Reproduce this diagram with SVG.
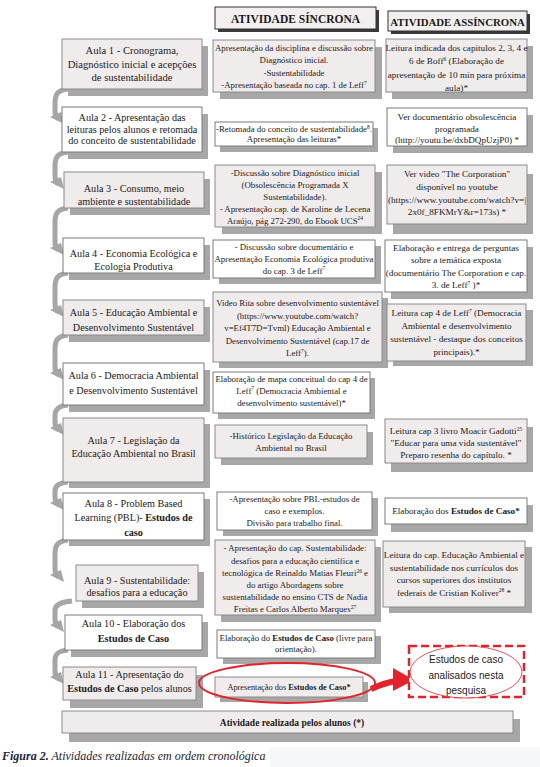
<svg xmlns="http://www.w3.org/2000/svg" width="540" height="767" viewBox="0 0 540 767">
<style>
.sh{fill:#a7a7a7}
.g{fill:#f1ecec;stroke:#8a8a8a;stroke-width:1}
.w{fill:#ffffff;stroke:#7a7a7a;stroke-width:1}
.hd{fill:#f3efef;stroke:#333;stroke-width:1}
.hs{fill:#3a3a3a}
text{font-family:"Liberation Serif","Times New Roman",serif;fill:#1a1a1a;text-anchor:middle}
.l{font-size:10.2px}
.m{font-size:8.8px}
.r{font-size:9.2px}
.h{font-size:11.5px;font-weight:bold}
.b{font-weight:bold}
.sup{font-size:5.5px}
.con{fill:none;stroke:#a6a6a6;stroke-width:5}
.ah{fill:#a6a6a6}
.red{stroke:#e3222b;fill:none}
.sans{font-family:"Liberation Sans",Arial,sans-serif;font-size:10px;fill:#222}
</style>
<rect x="0" y="0" width="540" height="767" fill="#ffffff"/>
<rect x="270" y="747" width="270" height="20" fill="#f4f8f9"/>

<!-- headers -->
<g id="header-sincrona">
<rect class="hs" x="218" y="10" width="161" height="22"/>
<rect class="hd" x="215" y="7" width="161" height="22"/>
<text class="h" x="295.5" y="23">ATIVIDADE SÍNCRONA</text>
</g>
<g id="header-assincrona">
<rect class="hs" x="391" y="14" width="139" height="20"/>
<rect class="hd" x="388" y="11" width="139" height="20"/>
<text class="h" x="457.5" y="25.5" style="font-size:10.8px">ATIVIDADE ASSÍNCRONA</text>
</g>

<!-- connectors -->
<g id="connectors">
<path class="con" d="M68 89 C57 90 55 95 55 103 L55 111 Q55 116 58 119"/>
<polygon class="ah" points="50,117 61,112 64,124"/>
<path class="con" d="M68 152 C57 153 55 158 55 166 L55 176 Q55 181 58 184"/>
<polygon class="ah" points="50,182 61,177 64,189"/>
<path class="con" d="M68 208 C57 209 55 214 55 222 L55 242 Q55 247 58 250"/>
<polygon class="ah" points="50,248 61,243 64,255"/>
<path class="con" d="M68 273 C57 274 55 279 55 287 L55 304 Q55 309 58 312"/>
<polygon class="ah" points="50,310 61,305 64,317"/>
<path class="con" d="M68 335 C57 336 55 341 55 349 L55 367 Q55 372 58 375"/>
<polygon class="ah" points="50,373 61,368 64,380"/>
<path class="con" d="M68 405 C57 406 55 411 55 416 L55 422 Q55 427 58 430"/>
<polygon class="ah" points="50,428 61,423 64,435"/>
<path class="con" d="M68 482 C57 483 55 487 55 491 L55 497 Q55 502 58 505"/>
<polygon class="ah" points="50,503 61,498 64,510"/>
<path class="con" d="M68 540 C57 541 55 546 55 554 L55 569 Q55 574 58 577"/>
<polygon class="ah" points="50,575 61,570 64,582"/>
<path class="con" d="M72 601 C60 602 55 606 55 610 L55 619 Q55 624 58 627"/>
<polygon class="ah" points="50,625 61,620 64,632"/>
<path class="con" d="M68 650 C57 651 55 655 55 660 L55 671 Q55 676 58 679"/>
<polygon class="ah" points="50,677 61,672 64,684"/>
</g>

<!-- left column -->
<g id="aula1">
<rect class="sh" x="68" y="46" width="140" height="50"/>
<rect class="g" x="62" y="39" width="140" height="50"/>
<text class="l" x="132" y="54" style="font-size:10.6px">Aula 1 - Cronograma,</text>
<text class="l" x="132" y="67.5" style="font-size:10.6px">Diagnóstico inicial e acepções</text>
<text class="l" x="132" y="81" style="font-size:10.6px">de sustentabilidade</text>
</g>
<g id="aula2">
<rect class="sh" x="68" y="114" width="140" height="45"/>
<rect class="w" x="62" y="107" width="140" height="45"/>
<text class="l" x="132" y="121">Aula 2 -  Apresentação das</text>
<text class="l" x="132" y="132.5">leituras pelos alunos e retomada</text>
<text class="l" x="132" y="144">do conceito de sustentabilidade</text>
</g>
<g id="aula3">
<rect class="sh" x="70" y="179" width="140" height="36"/>
<rect class="g" x="64" y="172" width="140" height="36"/>
<text class="l" x="134" y="191.5">Aula 3 - Consumo, meio</text>
<text class="l" x="134" y="204.5">ambiente e sustentabilidade</text>
</g>
<g id="aula4">
<rect class="sh" x="69" y="245" width="141" height="35"/>
<rect class="w" x="63" y="238" width="141" height="35"/>
<text class="l" x="133.5" y="256.5">Aula 4 - Economia Ecológica e</text>
<text class="l" x="133.5" y="269.5">Ecologia Produtiva</text>
</g>
<g id="aula5">
<rect class="sh" x="69" y="307" width="141" height="35"/>
<rect class="g" x="63" y="300" width="141" height="35"/>
<text class="l" x="133.5" y="315.5">Aula 5 - Educação Ambiental e</text>
<text class="l" x="133.5" y="330.5">Desenvolvimento Sustentável</text>
</g>
<g id="aula6">
<rect class="sh" x="69" y="370" width="141" height="42"/>
<rect class="w" x="63" y="363" width="141" height="42"/>
<text class="l" x="133.5" y="378.5">Aula 6 - Democracia Ambiental</text>
<text class="l" x="133.5" y="393.5">e Desenvolvimento Sustentável</text>
</g>
<g id="aula7">
<rect class="sh" x="69" y="424" width="141" height="64"/>
<rect class="g" x="63" y="418" width="141" height="64"/>
<text class="l" x="133.5" y="443.5">Aula 7 - Legislação da</text>
<text class="l" x="133.5" y="456.5">Educação Ambiental no Brasil</text>
</g>
<g id="aula8">
<rect class="sh" x="69" y="499" width="141" height="47"/>
<rect class="w" x="63" y="493" width="141" height="47"/>
<text class="l" x="133.5" y="506.5">Aula 8 - Problem Based</text>
<text class="l" x="133.5" y="521">Learning (PBL)- <tspan class="b">Estudos de</tspan></text>
<text class="l b" x="133.5" y="535.5">caso</text>
</g>
<g id="aula9">
<rect class="sh" x="82" y="572" width="122" height="36"/>
<rect class="g" x="76" y="565" width="122" height="36"/>
<text class="l" x="137" y="583.5">Aula 9 - Sustentabilidade:</text>
<text class="l" x="137" y="595.5">desafios para a educação</text>
</g>
<g id="aula10">
<rect class="sh" x="71" y="622" width="137" height="35"/>
<rect class="w" x="65" y="615" width="137" height="35"/>
<text class="l" x="133.5" y="627">Aula 10 -  Elaboração dos</text>
<text class="l b" x="133.5" y="642">Estudos de Caso</text>
</g>
<g id="aula11">
<rect class="sh" x="70" y="675" width="133" height="33"/>
<rect class="g" x="63" y="667" width="133" height="33"/>
<text class="l" x="129.5" y="677.5">Aula 11 - Apresentação do</text>
<text class="l" x="129.5" y="691.5"><tspan class="b">Estudos de Caso</tspan> pelos alunos</text>
</g>

<!-- middle column -->
<g id="sinc1">
<rect class="sh" x="220" y="47" width="162" height="52"/>
<rect class="g" x="213" y="40" width="162" height="52"/>
<text class="m" x="294" y="50.5">Apresentação da disciplina e discussão sobre</text>
<text class="m" x="294" y="63">Diagnóstico inicial.</text>
<text class="m" x="294" y="75.5">-Sustentabilidade</text>
<text class="m" x="294" y="88">-Apresentação baseada no cap. 1 de Leff<tspan class="sup" dy="-3.5">7</tspan></text>
</g>
<g id="sinc2">
<rect class="sh" x="220" y="128" width="158" height="24"/>
<rect class="w" x="215" y="122" width="158" height="24"/>
<text class="m" x="294" y="132">-Retomada do conceito de sustentabilidade<tspan class="sup" dy="-3.5">8</tspan><tspan dy="3.5">.</tspan></text>
<text class="m" x="294" y="142">Apresentação das leituras*</text>
</g>
<g id="sinc3">
<rect class="sh" x="222" y="172" width="160" height="62"/>
<rect class="g" x="215" y="165" width="160" height="62"/>
<text class="m" x="295" y="175.5">-Discussão sobre Diagnóstico inicial</text>
<text class="m" x="295" y="187.5">(Obsolescência Programada X</text>
<text class="m" x="295" y="199.5">Sustentabilidade).</text>
<text class="m" x="295" y="211.5">- Apresentação cap. de Karoline de Lecena</text>
<text class="m" x="295" y="223.5">Araújo, pág 272-290, do Ebook UCS<tspan class="sup" dy="-3.5">24</tspan></text>
</g>
<g id="sinc4">
<rect class="sh" x="219" y="246" width="162" height="38"/>
<rect class="w" x="213" y="240" width="162" height="38"/>
<text class="m" x="294" y="249.5">- Discussão sobre documentário e</text>
<text class="m" x="294" y="261.5">Apresentação Economia Ecológica produtiva</text>
<text class="m" x="294" y="273.5">do cap. 3 de Leff<tspan class="sup" dy="-3.5">7</tspan></text>
</g>
<g id="sinc5">
<rect class="sh" x="219" y="298" width="169" height="70"/>
<rect class="g" x="213" y="292" width="169" height="70"/>
<text class="m" x="297.5" y="306">Video Rita sobre desenvolvimento sustentável</text>
<text class="m" x="297.5" y="318.5">(https://www.youtube.com/watch?</text>
<text class="m" x="297.5" y="331">v=Ef4T7D=Tvml) Educação Ambiental e</text>
<text class="m" x="297.5" y="343.5">Desenvolvimento Sustentável (cap.17 de</text>
<text class="m" x="297.5" y="356">Leff<tspan class="sup" dy="-3.5">7</tspan><tspan dy="3.5">).</tspan></text>
</g>
<g id="sinc6">
<rect class="sh" x="218" y="378" width="157" height="41"/>
<rect class="w" x="213" y="372" width="157" height="41"/>
<text class="m" x="291.5" y="381.5">Elaboração de mapa conceitual do cap 4 de</text>
<text class="m" x="291.5" y="393.5">Leff<tspan class="sup" dy="-3.5">7</tspan><tspan dy="3.5"> (Democracia Ambiental e</tspan></text>
<text class="m" x="291.5" y="405.5">desenvolvimento sustentável)*</text>
</g>
<g id="sinc7">
<rect class="sh" x="221" y="432" width="152" height="33"/>
<rect class="g" x="215" y="425" width="152" height="33"/>
<text class="m" x="291" y="438.5">-Histórico Legislação da Educação</text>
<text class="m" x="291" y="450.5">Ambiental no Brasil</text>
</g>
<g id="sinc8">
<rect class="sh" x="223" y="498" width="155" height="38"/>
<rect class="w" x="217" y="492" width="155" height="38"/>
<text class="m" x="294.5" y="502">-Apresentação sobre PBL-estudos de</text>
<text class="m" x="294.5" y="514">caso e exemplos.</text>
<text class="m" x="294.5" y="526">Divisão para trabalho final.</text>
</g>
<g id="sinc9">
<rect class="sh" x="221" y="547" width="160" height="75"/>
<rect class="g" x="215" y="540" width="160" height="75"/>
<text class="m" x="295" y="551">- Apresentação do cap. Sustentabilidade:</text>
<text class="m" x="295" y="563.5">desafios para a educação científica e</text>
<text class="m" x="295" y="576">tecnológica de Reinaldo Matias Fleuri<tspan class="sup" dy="-3.5">26</tspan><tspan dy="3.5"> e</tspan></text>
<text class="m" x="295" y="588">do artigo Abordagens sobre</text>
<text class="m" x="295" y="600">sustentabilidade no ensino CTS de Nadia</text>
<text class="m" x="295" y="612">Freitas e Carlos Alberto Marques<tspan class="sup" dy="-3.5">27</tspan></text>
</g>
<g id="sinc10">
<rect class="sh" x="223" y="636" width="158" height="28"/>
<rect class="w" x="217" y="630" width="158" height="28"/>
<text class="m" x="296" y="640.5">Elaboração do <tspan class="b">Estudos de Caso</tspan> (livre para</text>
<text class="m" x="296" y="652">orientação).</text>
</g>
<g id="sinc11">
<rect class="sh" x="220" y="682" width="148" height="20"/>
<rect class="g" x="215" y="677" width="148" height="20"/>
<text class="m" x="289" y="690" style="font-size:8.3px">Apresentação dos <tspan class="b">Estudos de Caso*</tspan></text>
</g>

<!-- right column -->
<g id="assinc1">
<rect class="sh" x="392" y="46" width="141" height="53"/>
<rect class="g" x="386" y="39" width="141" height="53"/>
<text class="r" x="456.5" y="50.5">Leitura indicada dos capitulos 2, 3, 4 e</text>
<text class="r" x="456.5" y="64">6  de Boff<tspan class="sup" dy="-3.5">6</tspan><tspan dy="3.5"> (Elaboração de</tspan></text>
<text class="r" x="456.5" y="77.5">apresentação de 10 min para próxima</text>
<text class="r" x="456.5" y="90.5">aula)*</text>
</g>
<g id="assinc2">
<rect class="sh" x="393" y="115" width="140" height="38"/>
<rect class="w" x="387" y="108" width="140" height="38"/>
<text class="r" x="457" y="119.5">Ver documentário obsolescência</text>
<text class="r" x="457" y="131.5">programada</text>
<text class="r" x="457" y="143">(http://youtu.be/dxbDQpUzjP0) *</text>
</g>
<g id="assinc3">
<rect class="sh" x="393" y="174" width="140" height="60"/>
<rect class="g" x="387" y="165" width="140" height="59"/>
<text class="r" x="457" y="176.5">Ver video "The Corporation"</text>
<text class="r" x="457" y="190">disponível no youtube</text>
<text class="r" x="457" y="202.5">(https://www.youtube.com/watch?v=|</text>
<text class="r" x="457" y="215">2x0f_8FKMrY&amp;r=173s) *</text>
</g>
<g id="assinc4">
<rect class="sh" x="391" y="247" width="142" height="52"/>
<rect class="w" x="385" y="240" width="142" height="52"/>
<text class="r" x="456" y="250.5">Elaboração e entrega de perguntas</text>
<text class="r" x="456" y="263">sobre a temática exposta</text>
<text class="r" x="456" y="275.5">(documentário The Corporation e cap.</text>
<text class="r" x="456" y="288">3. de Leff<tspan class="sup" dy="-3.5">7</tspan><tspan dy="3.5"> )*</tspan></text>
</g>
<g id="assinc5">
<rect class="sh" x="393" y="310" width="140" height="56"/>
<rect class="g" x="387" y="304" width="139" height="57"/>
<text class="r" x="456.5" y="316">Leitura cap 4  de Leff<tspan class="sup" dy="-3.5">7</tspan><tspan dy="3.5"> (Democracia</tspan></text>
<text class="r" x="456.5" y="329">Ambiental e desenvolvimento</text>
<text class="r" x="456.5" y="342">sustentável - destaque dos conceitos</text>
<text class="r" x="456.5" y="355">principais).*</text>
</g>
<g id="assinc6">
<rect class="sh" x="391" y="427" width="142" height="45"/>
<rect class="g" x="385" y="419" width="142" height="44"/>
<text class="r" x="456" y="434">Leitura cap 3 livro Moacir Gadotti<tspan class="sup" dy="-3.5">25</tspan></text>
<text class="r" x="456" y="446">"Educar para uma vida sustentável"</text>
<text class="r" x="456" y="458">Preparo resenha do capítulo. *</text>
</g>
<g id="assinc7">
<rect class="sh" x="391" y="505" width="142" height="27"/>
<rect class="w" x="385" y="498" width="142" height="26"/>
<text class="r" x="456" y="514">Elaboração dos <tspan class="b">Estudos de Caso*</tspan></text>
</g>
<g id="assinc8">
<rect class="sh" x="389" y="547" width="143" height="66"/>
<rect class="g" x="383" y="541" width="142" height="66"/>
<text class="r" x="454" y="558">Leitura do cap. Educação Ambiental e</text>
<text class="r" x="454" y="570.5">sustentabilidade nos currículos dos</text>
<text class="r" x="454" y="583">cursos superiores dos institutos</text>
<text class="r" x="454" y="595.5">federais de Cristian Koliver<tspan class="sup" dy="-3.5">28</tspan><tspan dy="3.5"> *</tspan></text>
</g>

<!-- highlight -->
<g id="highlight-ellipse">
<ellipse class="red" cx="287" cy="683" rx="88" ry="20" stroke-width="2"/>
</g>
<g id="red-arrow">
<path d="M371 689 Q384 683 396 681" fill="none" stroke="#e3222b" stroke-width="6"/>
<polygon points="393,668 414,680 393,691" fill="#e3222b"/>
</g>
<g id="estudos-caso">
<rect x="409" y="646" width="115" height="51" fill="#ffffff" stroke="#e3222b" stroke-width="2.5" stroke-dasharray="8 4"/>
<ellipse cx="466" cy="672" rx="56" ry="26" fill="#ffffff" stroke="#e3222b" stroke-width="0.8"/>
<text class="sans" x="466" y="663">Estudos de caso</text>
<text class="sans" x="466" y="678.5">analisados nesta</text>
<text class="sans" x="466" y="694">pesquisa</text>
</g>

<!-- legend -->
<g id="legenda">
<rect class="sh" x="69" y="719" width="451" height="23"/>
<rect class="g" x="62" y="711" width="451" height="22"/>
<text class="b" x="292" y="726" style="font-size:9.5px">Atividade realizada pelos alunos (*)</text>
</g>

<text x="2" y="760" style="text-anchor:start;font-size:12px;font-style:italic;fill:#1c2333"><tspan font-weight="bold">Figura 2.</tspan> Atividades realizadas em ordem cronológica</text>
</svg>
